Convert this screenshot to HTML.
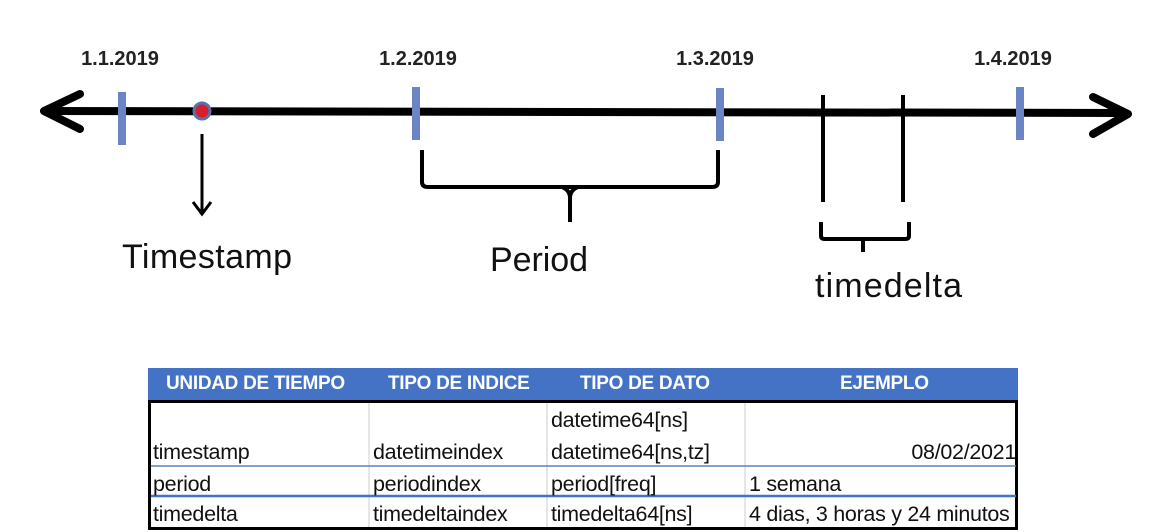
<!DOCTYPE html>
<html><head><meta charset="utf-8"><style>
body{margin:0;background:#fff;width:1168px;height:532px;overflow:hidden;position:relative;font-family:"Liberation Sans",sans-serif}
svg{position:absolute;left:0;top:0}
.t{position:absolute;font-family:"Liberation Sans",sans-serif;font-size:21.5px;color:#111;white-space:nowrap;letter-spacing:-0.3px}
.h{position:absolute;font-family:"Liberation Sans",sans-serif;font-weight:bold;font-size:19px;color:#fff;white-space:nowrap;top:373px;letter-spacing:-0.3px}
</style></head><body>
<svg width="1168" height="532">
<g font-family="Liberation Sans" font-weight="bold" font-size="20" text-anchor="middle" fill="#222">
<text x="120" y="65">1.1.2019</text>
<text x="418" y="65">1.2.2019</text>
<text x="715" y="65">1.3.2019</text>
<text x="1013" y="65">1.4.2019</text>
</g>
<line x1="46" y1="111" x2="1126" y2="113" stroke="#000" stroke-width="8"/>
<polyline points="80,94 44,111 80,129" fill="none" stroke="#000" stroke-width="8" stroke-linecap="round" stroke-linejoin="round"/>
<polyline points="1093,97 1128,114 1093,134" fill="none" stroke="#000" stroke-width="8" stroke-linecap="round" stroke-linejoin="round"/>
<g stroke="#6b85c4" stroke-width="8">
<line x1="122" y1="92" x2="122" y2="145"/>
<line x1="416" y1="87" x2="416" y2="140"/>
<line x1="720" y1="88" x2="720" y2="141"/>
<line x1="1020" y1="87" x2="1020" y2="140"/>
</g>
<circle cx="202" cy="111" r="8" fill="#d81e2a" stroke="#5a6fb0" stroke-width="3"/>
<line x1="202" y1="134" x2="202" y2="213" stroke="#000" stroke-width="3"/>
<polyline points="193,202 202,214 211,202" fill="none" stroke="#000" stroke-width="3"/>
<g fill="none" stroke="#000" stroke-width="4">
<path d="M422,150 V182 Q422,187 428,187 H712 Q718,187 718,182 V150"/>
<path d="M562,187 Q570,190 570,198 V222 M578,187 Q570,190 570,198"/>
<line x1="823" y1="95" x2="823" y2="202"/>
<line x1="903" y1="95" x2="903" y2="202"/>
<path d="M821,222 V236 Q821,239 825,239 H905 Q909,239 909,236 V222"/>
<path d="M863,239 V252"/>
</g>
<g font-family="Liberation Sans" font-size="34" fill="#111">
<text x="122" y="268" textLength="170">Timestamp</text>
<text x="490" y="271" textLength="98">Period</text>
<text x="815" y="297" textLength="147">timedelta</text>
</g>
<rect x="148" y="368" width="870" height="32" fill="#4472c4"/>
<rect x="149.5" y="401.5" width="867" height="127" fill="none" stroke="#000" stroke-width="3"/>
<line x1="369" y1="403" x2="369" y2="527" stroke="#ddd" stroke-width="1.5"/>
<line x1="547" y1="403" x2="547" y2="527" stroke="#ddd" stroke-width="1.5"/>
<line x1="745" y1="403" x2="745" y2="527" stroke="#ddd" stroke-width="1.5"/>
<line x1="151" y1="466" x2="1016" y2="466" stroke="#5b82c8" stroke-width="1.5"/>
<line x1="151" y1="496" x2="1016" y2="496" stroke="#4472c4" stroke-width="2.5"/>
</svg>
<div class="h" style="left:166px">UNIDAD DE TIEMPO</div>
<div class="h" style="left:388px">TIPO DE INDICE</div>
<div class="h" style="left:580px">TIPO DE DATO</div>
<div class="h" style="left:840px">EJEMPLO</div>
<div class="t" style="left:153px;top:440px">timestamp</div>
<div class="t" style="left:373px;top:440px">datetimeindex</div>
<div class="t" style="left:551px;top:408px">datetime64[ns]</div>
<div class="t" style="left:551px;top:440px">datetime64[ns,tz]</div>
<div class="t" style="right:152px;top:440px">08/02/2021</div>
<div class="t" style="left:153px;top:472px">period</div>
<div class="t" style="left:373px;top:472px">periodindex</div>
<div class="t" style="left:551px;top:472px">period[freq]</div>
<div class="t" style="left:749px;top:472px">1 semana</div>
<div class="t" style="left:153px;top:502px">timedelta</div>
<div class="t" style="left:373px;top:502px">timedeltaindex</div>
<div class="t" style="left:551px;top:502px">timedelta64[ns]</div>
<div class="t" style="left:749px;top:502px">4 dias, 3 horas y 24 minutos</div>
</body></html>
